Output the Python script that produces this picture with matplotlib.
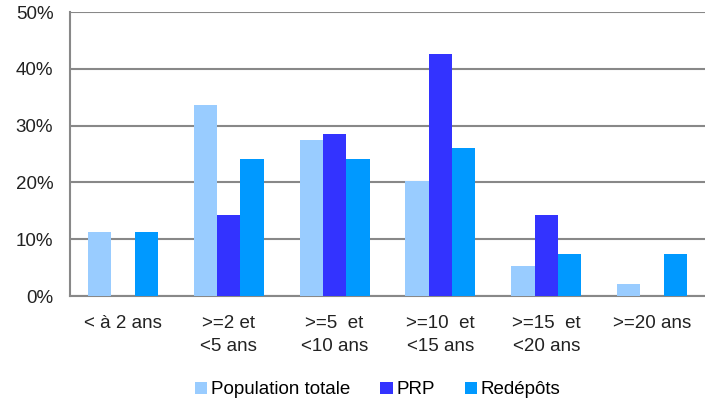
import numpy as np
import matplotlib.pyplot as plt
from matplotlib.ticker import PercentFormatter

plt.rcParams['font.family'] = ['Liberation Sans', 'DejaVu Sans']

categories = ['< à 2 ans', '>=2 et\n<5 ans', '>=5  et\n<10 ans', '>=10  et\n<15 ans',
              '>=15  et\n<20 ans', '>=20 ans']
population = [11.2, 33.6, 27.5, 20.3, 5.2, 2.1]
prp = [0.0, 14.3, 28.5, 42.6, 14.3, 0.0]
redepots = [11.2, 24.1, 24.1, 26.0, 7.4, 7.4]

series = [('Population totale', population, '#99CCFF'),
          ('PRP', prp, '#3333FF'),
          ('Redépôts', redepots, '#0099FF')]

fig = plt.figure(figsize=(7.05, 4.07), dpi=100)
ax = fig.add_axes([0.0993, 0.2727, 0.9007, 0.6978])

x = np.arange(len(categories))
w = 0.22
for k, (name, vals, col) in enumerate(series):
    ax.bar(x + (k - 1) * w, vals, w, color=col, label=name, zorder=3)

ax.set_xlim(-0.5, len(categories) - 0.5)
ax.set_ylim(0, 50)
ax.set_yticks(np.arange(0, 51, 10))
ax.yaxis.set_major_formatter(PercentFormatter(decimals=0))
ax.grid(axis='y', color='#888888', linewidth=1.5, zorder=0)
ax.set_xticks(x)
ax.set_xticklabels(categories, linespacing=1.45)
ax.tick_params(axis='both', length=0, labelsize=13.5, colors='#222222')
ax.tick_params(axis='x', pad=14)
ax.tick_params(axis='y', pad=12)
for s in ['top', 'right']:
    ax.spines[s].set_visible(False)
for s in ['left', 'bottom']:
    ax.spines[s].set_color('#888888')
    ax.spines[s].set_linewidth(1.5)

fig.legend(loc='center', bbox_to_anchor=(0.536, 0.042), ncol=3, frameon=False,
           fontsize=13.5, handlelength=0.65, handleheight=0.65, handletextpad=0.2,
           columnspacing=1.6)

fig.savefig('out.png', dpi=100)
